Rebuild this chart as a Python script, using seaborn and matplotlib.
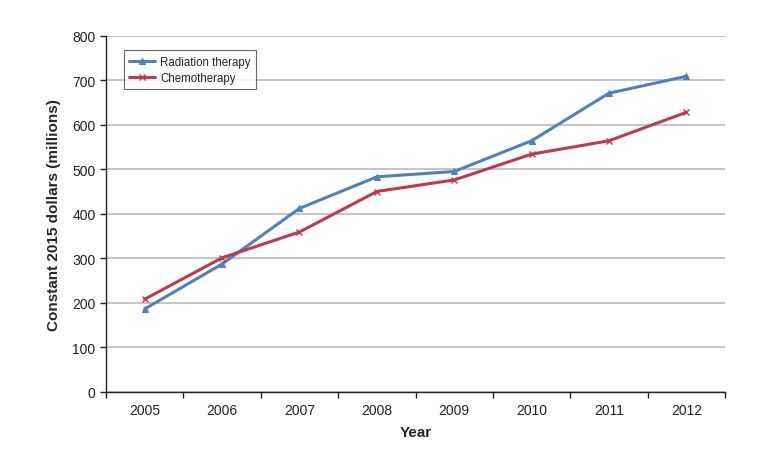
import matplotlib
matplotlib.use("Agg")
import matplotlib.pyplot as plt
import seaborn as sns
import pandas as pd
from matplotlib.ticker import FixedLocator, NullFormatter

years = ["2005", "2006", "2007", "2008", "2009", "2010", "2011", "2012"]
radiation = [186, 287, 412, 483, 495, 564, 671, 709]
chemo = [208, 301, 359, 450, 476, 534, 564, 628]
series_names = ["Radiation therapy", "Chemotherapy"]
yticks = [0, 100, 200, 300, 400, 500, 600, 700, 800]

df_rad = pd.DataFrame({"Year": years, "Value": radiation})
df_chemo = pd.DataFrame({"Year": years, "Value": chemo})

sns.set_theme(style="white")
plt.rcParams["font.family"] = ["Liberation Sans", "DejaVu Sans"]

fig = plt.figure(figsize=(7.7, 4.6), dpi=100)
ax = fig.add_axes([0.1377, 0.1463, 0.8039, 0.7737])

blue = "#4F81BD"
red = "#C0394F"
sns.lineplot(data=df_rad, x="Year", y="Value", color=blue, marker="^",
             linewidth=2.2, markersize=5, markeredgewidth=0.8, markeredgecolor=blue,
             markerfacecolor=blue, label=series_names[0], ax=ax, sort=False)
sns.lineplot(data=df_chemo, x="Year", y="Value", color=red, marker="x",
             linewidth=2.2, markersize=5, markeredgewidth=1.0, markeredgecolor=red,
             label=series_names[1], ax=ax, sort=False)

ax.set_xlim(-0.5, len(years) - 0.5)
ax.set_ylim(0, 800)
ax.set_yticks(yticks)
ax.yaxis.grid(True, color="#BBBBBB", linewidth=1.2)
ax.set_axisbelow(True)

ax.set_xticks(range(len(years)))
ax.set_xticklabels(years)
ax.xaxis.set_minor_locator(FixedLocator([i - 0.5 for i in range(len(years) + 1)]))
ax.xaxis.set_minor_formatter(NullFormatter())
ax.tick_params(axis="x", which="major", length=0, labelsize=10, pad=8, colors="#222222")
ax.tick_params(axis="x", which="minor", length=4, width=1, color="#222222", direction="out", bottom=True)
ax.tick_params(axis="y", which="major", length=4, width=1, color="#222222", direction="out",
               left=True, labelsize=10, colors="#222222")

for s in ["top", "right"]:
    ax.spines[s].set_visible(False)
for s in ["left", "bottom"]:
    ax.spines[s].set_color("#222222")
    ax.spines[s].set_linewidth(1.0)

ax.set_xlabel("Year", fontsize=11, fontweight="bold", labelpad=6)
ax.set_ylabel("Constant 2015 dollars (millions)", fontsize=11, fontweight="bold", labelpad=8)

leg = ax.legend(loc="upper left", bbox_to_anchor=(0.02, 0.975), frameon=True,
                fontsize=8.3, fancybox=False, handlelength=2.2, handletextpad=0.5,
                borderpad=0.45, labelspacing=0.4)
leg.get_frame().set_edgecolor("#444444")
leg.get_frame().set_linewidth(0.8)

fig.savefig("out.png", dpi=100)
